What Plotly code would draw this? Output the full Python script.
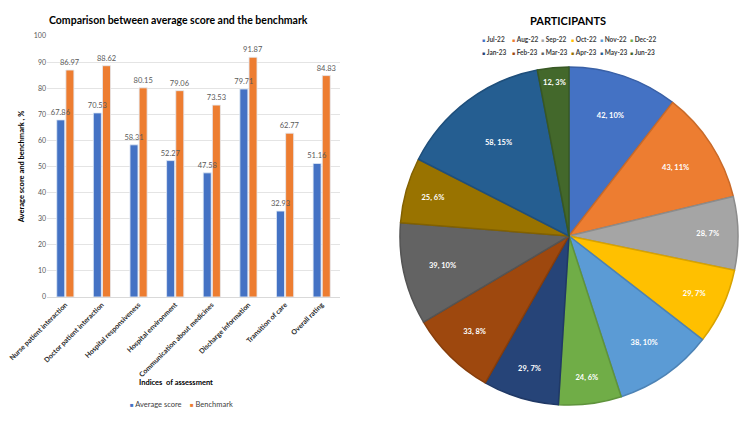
import plotly.graph_objects as go

# ---- Bar chart data ----
categories = ["Nurse patient interaction", "Doctor patient interaction", "Hospital responsiveness",
              "Hospital environment", "Communication about medicines", "Discharge information",
              "Transition of care", "Overall rating"]
average_score = [67.86, 70.53, 58.31, 52.27, 47.58, 79.71, 32.93, 51.16]
benchmark = [86.97, 88.62, 80.15, 79.06, 73.53, 91.87, 62.77, 84.83]
y_ticks = [0, 10, 20, 30, 40, 50, 60, 70, 80, 90, 100]
series_names = ["Average score", "Benchmark"]
series_colors = ["#4472C4", "#ED7D31"]

# ---- Pie chart data ----
months = ["Jul-22", "Aug-22", "Sep-22", "Oct-22", "Nov-22", "Dec-22",
          "Jan-23", "Feb-23", "Mar-23", "Apr-23", "May-23", "Jun-23"]
participants = [42, 43, 28, 29, 38, 24, 29, 33, 39, 25, 58, 12]
percent_labels = [10, 11, 7, 7, 10, 6, 7, 8, 10, 6, 15, 3]

pie_colors = ["#4472C4", "#ED7D31", "#A5A5A5", "#FFC000", "#5B9BD5", "#70AD47",
              "#264478", "#9E480E", "#636363", "#997300", "#255E91", "#43682B"]


def darker(hex_color, f=0.85):
    h = hex_color.lstrip("#")
    r, g, b = (int(h[i:i + 2], 16) for i in (0, 2, 4))
    return "#%02X%02X%02X" % (int(r * f), int(g * f), int(b * f))


W, H = 750, 422
FONT = "Lato"

fig = go.Figure()

# visible bars
for name, vals, col in zip(series_names, [average_score, benchmark], series_colors):
    fig.add_trace(go.Bar(
        x=categories, y=vals, name=name, marker=dict(color=col),
        showlegend=False, hoverinfo="x+y",
    ))
# value labels on an overlaid axis so no bar hides them
for name, vals in zip(series_names, [average_score, benchmark]):
    fig.add_trace(go.Bar(
        x=categories, y=vals, name=name, xaxis="x2", yaxis="y2",
        marker=dict(color="rgba(0,0,0,0)"),
        texttemplate="%{y:.2f}", textposition="outside", constraintext="none",
        textfont=dict(size=7.5, color="#595959", family=FONT),
        cliponaxis=False, showlegend=False, hoverinfo="skip",
    ))

fig.add_trace(go.Pie(
    labels=months, values=participants,
    text=[f"{p}%" for p in percent_labels],
    texttemplate="<b>%{value}, %{text}</b>",
    textposition="inside", insidetextorientation="horizontal",
    textfont=dict(size=7.5, color="white", family=FONT),
    marker=dict(colors=pie_colors, line=dict(color=[darker(c) for c in pie_colors], width=1.5)),
    sort=False, direction="clockwise", rotation=0,
    domain=dict(x=[400 / W, 738 / W], y=[1 - 405 / H, 1 - 67 / H]),
    showlegend=False, hoverinfo="label+value+percent",
))

annotations = [
    dict(text="<b>Comparison between average score and the benchmark</b>",
         x=178 / W, y=1 - 20 / H, xref="paper", yref="paper", showarrow=False,
         xanchor="center", yanchor="middle", font=dict(size=10.5, color="#000000", family=FONT)),
    dict(text="<b>Indices  of assessment</b>",
         x=176 / W, y=1 - 382 / H, xref="paper", yref="paper", showarrow=False,
         xanchor="center", yanchor="middle", font=dict(size=7.5, color="#000000", family=FONT)),
    dict(text="<b>PARTICIPANTS</b>",
         x=568 / W, y=1 - 20 / H, xref="paper", yref="paper", showarrow=False,
         xanchor="center", yanchor="middle", font=dict(size=11, color="#000000", family=FONT)),
]

# bar legend entries
for i, (n, c) in enumerate(zip(series_names, series_colors)):
    annotations.append(dict(
        text=f"<span style='color:{c};font-size:6px'>■</span> {n}",
        x=(128 + i * 60) / W, y=1 - 404 / H, xref="paper", yref="paper",
        xanchor="left", yanchor="middle", showarrow=False,
        font=dict(size=7.5, color="#404040", family=FONT)))

# pie legend entries laid out in two rows of six
for i, (m, c) in enumerate(zip(months, pie_colors)):
    row, col = divmod(i, 6)
    annotations.append(dict(
        text=f"<span style='color:{c};font-size:5px'>■</span> <b>{m}</b>",
        x=(480 + col * 29.5) / W, y=1 - (39 + row * 13.5) / H,
        xref="paper", yref="paper", xanchor="left", yanchor="middle", showarrow=False,
        font=dict(size=6.5, color="#404040", family=FONT)))

x_dom = [47 / W, 340 / W]
y_dom = [1 - 297 / H, 1 - 36 / H]

fig.update_layout(
    width=W, height=H,
    margin=dict(l=0, r=0, t=0, b=0),
    paper_bgcolor="white", plot_bgcolor="white",
    font=dict(family=FONT),
    barmode="group", bargap=0.5, bargroupgap=0.12,
    showlegend=False,
    xaxis=dict(domain=x_dom, tickangle=-45, showgrid=False,
               showline=True, linecolor="#D9D9D9", ticks="",
               tickfont=dict(size=7, color="#262626", family=FONT),
               tickprefix="<b>", ticksuffix="</b>",
               automargin=False),
    yaxis=dict(domain=y_dom, range=[0, 100], tickvals=y_ticks,
               showgrid=True, gridcolor="#E4E4E4", zeroline=False,
               tickfont=dict(size=7, color="#595959", family=FONT),
               title=dict(text="<b>Average score and benchmark , %</b>",
                          font=dict(size=7.5, color="#000000", family=FONT), standoff=8),
               automargin=False),
    xaxis2=dict(domain=x_dom, overlaying="x", visible=False, matches="x"),
    yaxis2=dict(domain=y_dom, overlaying="y", visible=False, range=[0, 100]),
    annotations=annotations,
)

fig.write_html("out.html", config={"displayModeBar": False},
               post_script="document.body.style.margin='0';document.body.style.overflow='hidden';")
